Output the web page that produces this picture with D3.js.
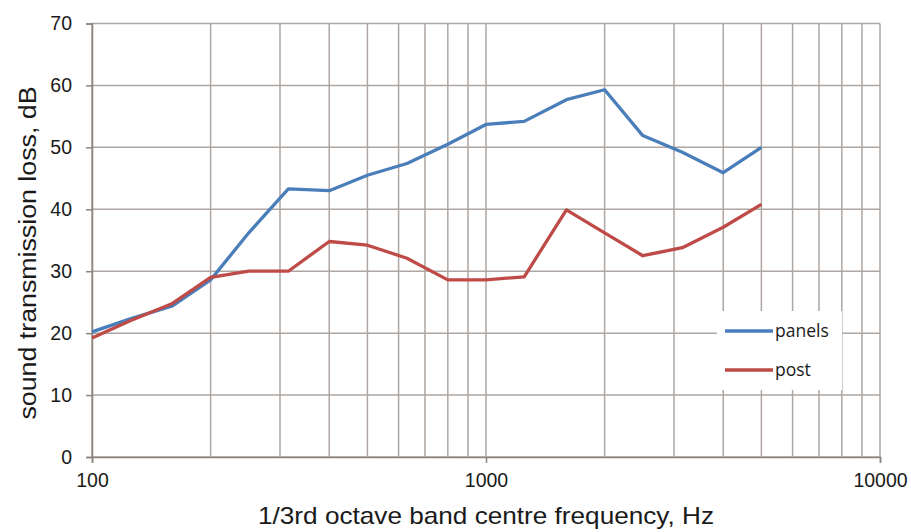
<!DOCTYPE html>
<html>
<head>
<meta charset="utf-8">
<script src="https://cdn.jsdelivr.net/npm/d3@7"></script>
<style>
  body { margin: 0; background: #fff; }
  svg { display: block; }
</style>
</head>
<body>
<div id="chart"></div>
<script>
// 1/3 octave band centre frequencies (Hz)
var freqs = [100, 125, 160, 200, 250, 315, 400, 500, 630, 800, 1000, 1250, 1600, 2000, 2500, 3150, 4000, 5000];
// sound transmission loss, dB
var panels = [20.2, 22.3, 24.4, 28.6, 36.2, 43.3, 43.0, 45.5, 47.4, 50.5, 53.7, 54.2, 57.7, 59.3, 51.9, 49.2, 45.9, 50.0];
var post   = [19.2, 22.0, 24.8, 29.0, 30.0, 30.0, 34.8, 34.2, 32.1, 28.6, 28.6, 29.1, 39.9, 36.2, 32.5, 33.8, 37.1, 40.8];
var yTicks = [0, 10, 20, 30, 40, 50, 60, 70];
var xTicks = [100, 1000, 10000];

var width = 911,
    height = 532;
var margin = {left: 92, right: 31, top: 23.5, bottom: 75};

var svg = d3.select("#chart").append("svg")
    .attr("width", width)
    .attr("height", height);

var x = d3.scaleLog().domain([100, 10000]).range([margin.left, width - margin.right]);
var y = d3.scaleLinear().domain([0, 70]).range([height - margin.bottom, margin.top]);

var gridColor = "#aea6a2";
var axisFont = "'Liberation Sans', Arial, sans-serif";

// vertical grid at every 1..9 multiple of each decade
var minor = [];
[100, 1000].forEach(function(dec) {
  for (var k = 1; k <= 10; k++) minor.push(dec * k);
});
minor = Array.from(new Set(minor));

svg.append("g").selectAll("line.vg")
  .data(minor)
  .enter().append("line")
  .attr("x1", function(d) { return x(d); })
  .attr("x2", function(d) { return x(d); })
  .attr("y1", y(70))
  .attr("y2", y(0))
  .attr("stroke", gridColor)
  .attr("stroke-width", 1.5);

svg.append("g").selectAll("line.hg")
  .data(yTicks)
  .enter().append("line")
  .attr("x1", x(100))
  .attr("x2", x(10000))
  .attr("y1", function(d) { return y(d); })
  .attr("y2", function(d) { return y(d); })
  .attr("stroke", gridColor)
  .attr("stroke-width", 1.5);

// axes
var yAxis = d3.axisLeft(y).tickValues(yTicks).tickSize(6).tickPadding(14);
var xAxis = d3.axisBottom(x).tickValues(xTicks).tickSize(6).tickPadding(10)
  .tickFormat(d3.format("d"));

var gy = svg.append("g").attr("transform", "translate(" + margin.left + ",0)").call(yAxis);
var gx = svg.append("g").attr("transform", "translate(0," + y(0) + ")").call(xAxis);

[gx, gy].forEach(function(g) {
  g.select(".domain").attr("stroke", "#8c8480").attr("stroke-width", 1.5);
  g.selectAll(".tick line").attr("stroke", "#8c8480").attr("stroke-width", 1.5);
  g.selectAll(".tick text")
    .attr("fill", "#1a1a1a")
    .style("font-family", axisFont)
    .style("font-size", "19.5px");
});

// series
var line = d3.line()
  .x(function(d) { return x(d[0]); })
  .y(function(d) { return y(d[1]); });

var series = [
  {name: "panels", values: panels, color: "#4a7ebb"},
  {name: "post", values: post, color: "#be4b48"}
];

svg.append("g").selectAll("path.series")
  .data(series)
  .enter().append("path")
  .attr("fill", "none")
  .attr("stroke", function(d) { return d.color; })
  .attr("stroke-width", 3.3)
  .attr("stroke-linejoin", "round")
  .attr("d", function(d) {
    return line(freqs.map(function(f, i) { return [f, d.values[i]]; }));
  });

// legend
var legend = svg.append("g").attr("transform", "translate(717,311)");
legend.append("rect")
  .attr("width", 125)
  .attr("height", 79)
  .attr("fill", "#fff");

var items = legend.selectAll("g.item")
  .data(series)
  .enter().append("g")
  .attr("transform", function(d, i) { return "translate(8," + (20 + i * 39) + ")"; });

items.append("line")
  .attr("x1", 0).attr("x2", 48)
  .attr("stroke", function(d) { return d.color; })
  .attr("stroke-width", 3.3);

items.append("text")
  .attr("x", 50)
  .attr("y", 6)
  .style("font-family", "'Open Sans', Carlito, sans-serif")
  .style("font-size", "17.5px")
  .attr("fill", "#1a1a1a")
  .text(function(d) { return d.name; });

// axis titles
svg.append("text")
  .attr("x", x(1000))
  .attr("y", 524)
  .attr("text-anchor", "middle")
  .attr("textLength", 456)
  .attr("lengthAdjust", "spacingAndGlyphs")
  .style("font-family", axisFont)
  .style("font-size", "24px")
  .attr("fill", "#1a1a1a")
  .text("1/3rd octave band centre frequency, Hz");

svg.append("text")
  .attr("transform", "translate(36,253) rotate(-90)")
  .attr("text-anchor", "middle")
  .attr("textLength", 333)
  .attr("lengthAdjust", "spacingAndGlyphs")
  .style("font-family", axisFont)
  .style("font-size", "23px")
  .attr("fill", "#1a1a1a")
  .text("sound transmission loss, dB");
</script>
</body>
</html>
